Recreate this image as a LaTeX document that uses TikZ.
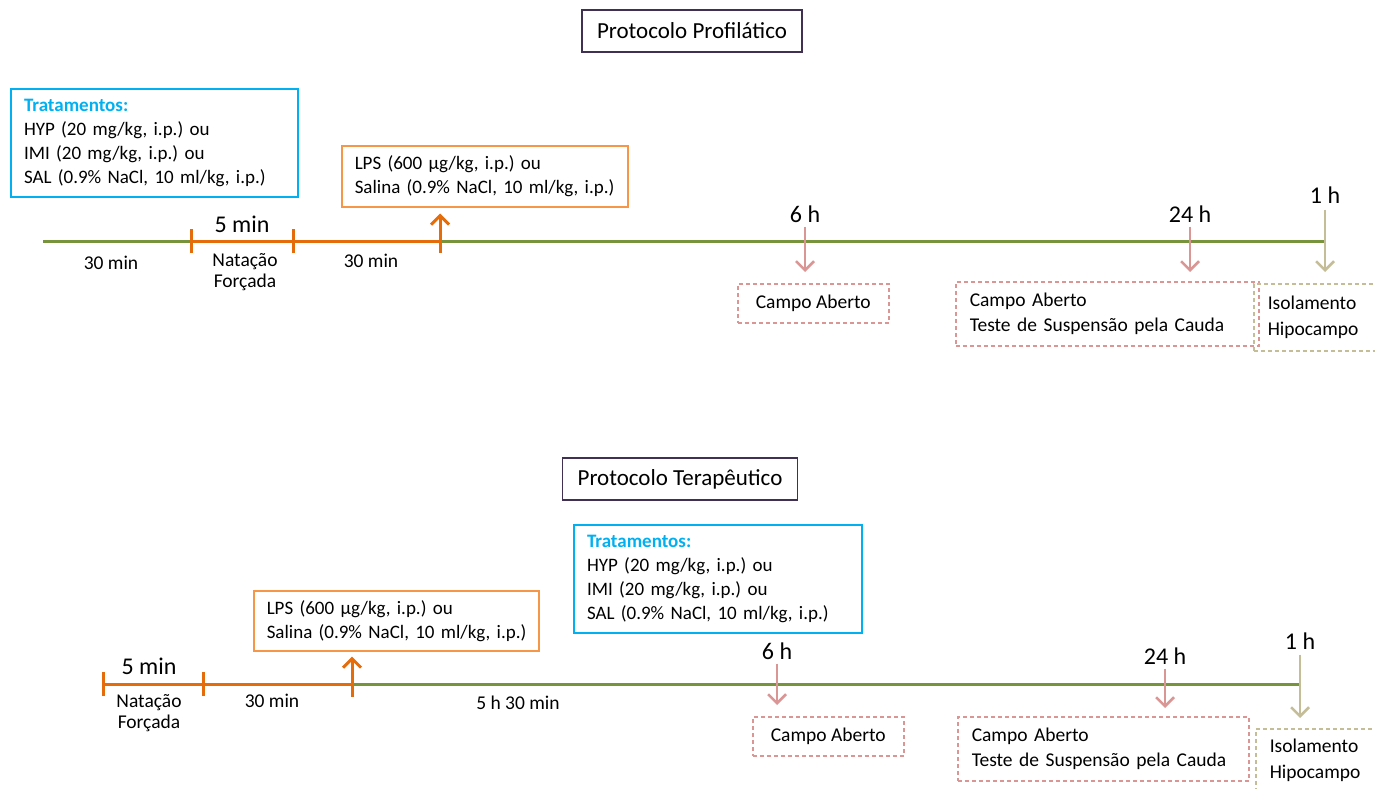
\documentclass[tikz,border=0pt]{standalone}
\usepackage{fontspec}
\setmainfont{Carlito}
\usetikzlibrary{arrows.meta}
\definecolor{cblue}{HTML}{00B0F0}
\definecolor{corangebox}{HTML}{F79646}
\definecolor{corange}{HTML}{E46C0A}
\definecolor{cgreen}{HTML}{77933C}
\definecolor{cpink}{HTML}{D99694}
\definecolor{ctan}{HTML}{C4BD97}
\definecolor{cpurple}{HTML}{403152}
\tikzset{
  body/.style={font=\fontsize{19.5}{24}\selectfont\frenchspacing, inner sep=0pt},
  big/.style={font=\fontsize{24}{28}\selectfont, inner sep=0pt},
  titlebox/.style={draw=cpurple, line width=1.5pt, font=\fontsize{23}{27}\selectfont, inner xsep=15pt, minimum height=42pt},
  treatbox/.style={draw=cblue, line width=2pt, font=\fontsize{19}{24}\selectfont\frenchspacing, align=left, anchor=north west, inner xsep=13pt, inner ysep=0pt},
  lpsbox/.style={draw=corangebox, line width=1.5pt, font=\fontsize{19}{24}\selectfont\frenchspacing, align=left, anchor=north west, inner xsep=11pt, inner ysep=0pt},
  testbox/.style={draw=cpink, dash pattern=on 4pt off 3pt, line width=1.5pt, font=\fontsize{19.5}{25}\selectfont\frenchspacing, align=left, anchor=north west, inner xsep=14pt, inner ysep=0pt},
  hipbox/.style={draw=ctan, dash pattern=on 4pt off 3pt, line width=1.5pt, font=\fontsize{19.5}{26}\selectfont, align=left, anchor=north west, inner xsep=14pt, inner ysep=0pt},
  gline/.style={draw=cgreen, line width=3pt},
  oline/.style={draw=corange, line width=3pt},
  oarrow/.style={draw=corange, line width=3pt, -{Straight Barb[length=9pt,width=18pt,line width=3pt]}},
  parrow/.style={draw=cpink, line width=2.5pt, -{Straight Barb[length=9pt,width=18pt,line width=2.5pt]}},
  tarrow/.style={draw=ctan, line width=2.5pt, -{Straight Barb[length=9pt,width=18pt,line width=2.5pt]}},
}
\begin{document}
\begin{tikzpicture}[x=1pt,y=-1pt]
\useasboundingbox (0,0) rectangle (1375,789);
% ---------------- Top: Protocolo Profilático
\node[titlebox] (t1) at (692,31) {Protocolo Profilático};
\node[treatbox, minimum width=287pt, minimum height=108pt, text width=261pt] (tr1) at (10,88)
  {\textcolor{cblue}{\textbf{Tratamentos:}}\\HYP (20 mg/kg, i.p.) ou\\IMI (20 mg/kg, i.p.) ou\\SAL (0.9\% NaCl, 10 ml/kg, i.p.)};
\node[lpsbox, minimum width=286pt, minimum height=61pt, text width=264pt] (lps1) at (341,145)
  {\hspace{2pt}LPS (600 µg/kg, i.p.) ou\\\hspace{2pt}Salina (0.9\% NaCl, 10 ml/kg, i.p.)};
\coordinate (a1) at (43,241);
\coordinate (b1) at (191,241);
\coordinate (c1) at (293,241);
\coordinate (d1) at (440,241);
\coordinate (e1) at (1325,241);
\draw[gline] (a1) -- (e1);
\draw[oline] (b1) -- (d1);
\draw[oline] ([yshift=-12pt]b1) -- ([yshift=12pt]b1);
\draw[oline] ([yshift=-12pt]c1) -- ([yshift=12pt]c1);
\draw[oarrow] ([yshift=-12pt]d1) -- ([yshift=-6pt]lps1.south -| d1);
\node[body] (m30a) at (111,263) {30 min};
\node[big] (m5a) at (242,224) {5 min};
\node[body, align=center, font=\fontsize{19.5}{21}\selectfont] (nfa) at (245,272) {Natação\\Forçada};
\node[body] (m30b) at (371,261) {30 min};
\node[big] (h6a) at (805,214) {6 h};
\node[testbox, minimum width=151pt, minimum height=39pt] (ca1) at (737,283) {Campo Aberto};
\node[big] (h24a) at (1190,214) {24 h};
\node[testbox, minimum width=303pt, minimum height=64pt, text width=275pt] (ts1) at (955,281) {Campo Aberto\\Teste de Suspensão pela Cauda};
\node[big] (h1a) at (1325,195) {1 h};
\node[hipbox, minimum width=130pt, minimum height=67pt, text width=110pt] (hp1) at (1253,283) {Isolamento\\Hipocampo};
\draw[parrow] (h6a.south) ++(0,4) -- ([yshift=11pt]ca1.north -| h6a.south);
\draw[parrow] (h24a.south) ++(0,4) -- ([yshift=9pt]ts1.north -| h24a.south);
\draw[tarrow] (h1a.south) ++(0,6) -- ([yshift=11pt]hp1.north -| h1a.south);
% ---------------- Bottom: Protocolo Terapêutico
\node[titlebox] (t2) at (680,479) {Protocolo Terapêutico};
\node[treatbox, minimum width=288pt, minimum height=108pt, text width=262pt] (tr2) at (573,524)
  {\textcolor{cblue}{\textbf{Tratamentos:}}\\HYP (20 mg/kg, i.p.) ou\\IMI (20 mg/kg, i.p.) ou\\SAL (0.9\% NaCl, 10 ml/kg, i.p.)};
\node[lpsbox, minimum width=285pt, minimum height=60pt, text width=263pt] (lps2) at (253,590)
  {\hspace{2pt}LPS (600 µg/kg, i.p.) ou\\\hspace{2pt}Salina (0.9\% NaCl, 10 ml/kg, i.p.)};
\coordinate (b2) at (103,684);
\coordinate (c2) at (203,684);
\coordinate (d2) at (352,684);
\coordinate (e2) at (1300,684);
\draw[gline] (d2) -- (e2);
\draw[oline] (b2) -- (d2);
\draw[oline] ([yshift=-12pt]b2) -- ([yshift=12pt]b2);
\draw[oline] ([yshift=-12pt]c2) -- ([yshift=12pt]c2);
\draw[oarrow] ([yshift=-13pt]d2) -- ([yshift=-5pt]lps2.south -| d2);
\node[big] (m5b) at (149,666) {5 min};
\node[body, align=center, font=\fontsize{19.5}{21}\selectfont] (nfb) at (149,713) {Natação\\Forçada};
\node[body] (m30c) at (272,701) {30 min};
\node[body] (h530) at (518,703) {5 h 30 min};
\node[big] (h6b) at (777,651) {6 h};
\node[testbox, minimum width=151pt, minimum height=39pt] (ca2) at (752,716) {Campo Aberto};
\node[big] (h24b) at (1165,656) {24 h};
\node[testbox, minimum width=291pt, minimum height=64pt, text width=263pt] (ts2) at (957,716) {Campo Aberto\\Teste de Suspensão pela Cauda};
\node[big] (h1b) at (1300,641) {1 h};
\node[hipbox, minimum width=130pt, minimum height=64pt, text width=110pt] (hp2) at (1255,728) {Isolamento\\Hipocampo};
\draw[parrow] (h6b.south) ++(0,4) -- ([yshift=11pt]ca2.north -| h6b.south);
\draw[parrow] (h24b.south) ++(0,4) -- ([yshift=8pt]ts2.north -| h24b.south);
\draw[tarrow] (h1b.south) ++(0,5) -- ([yshift=10pt]hp2.north -| h1b.south);
\end{tikzpicture}
\end{document}
